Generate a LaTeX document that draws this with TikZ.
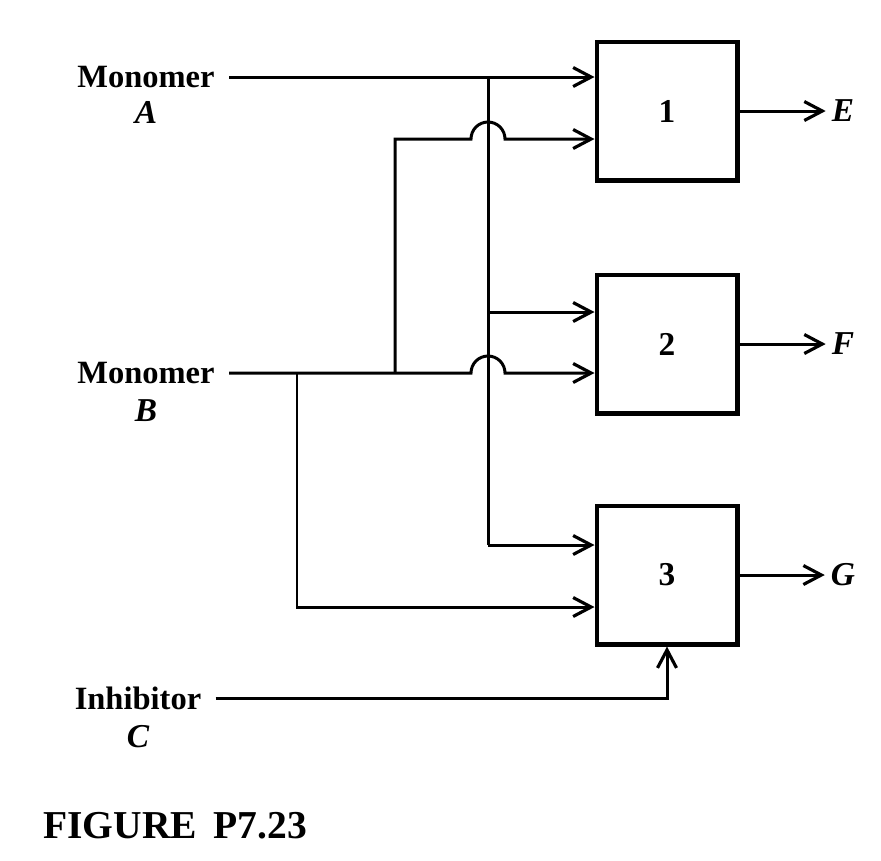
\documentclass[tikz,border=0pt]{standalone}
\usepackage{fontspec}
\setmainfont{Liberation Serif}
\usetikzlibrary{arrows.meta,calc}
\tikzset{
  wire/.style={line width=1.7pt},
  arr/.style={wire, -{Straight Barb[length=0.36cm, width=0.38cm, line width=1.8pt]}},
  unit/.style={draw, line width=2.3pt, minimum width=2.82cm, minimum height=2.78cm,
    font=\fontsize{19}{22}\selectfont\bfseries},
  feed/.style={inner xsep=8pt, font=\fontsize{18.5}{22}\selectfont\bfseries},
  sym/.style={font=\fontsize{19}{22}\selectfont\bfseries\itshape}
}
\begin{document}
\begin{tikzpicture}[x=0.02cm, y=-0.02cm]
        \def \hop {0.34cm}
        \useasboundingbox (0,0) rectangle (881,860);

        \node[unit] (b1) at (667,111) {1};
        \node[unit] (b2) at (667,344) {2};
        \node[unit] (b3) at (667,575) {3};

        \node[feed] (mA) at (146,77) {Monomer};
        \node[sym] (lA) at (146,112) {A};
        \node[feed] (mB) at (146,373) {Monomer};
        \node[sym] (lB) at (146,411) {B};
        \node[feed] (inh) at (138,698) {Inhibitor};
        \node[sym] (lC) at (138,737) {C};

        \node[sym] (E) at (843,111) {E};
        \node[sym] (F) at (843,344) {F};
        \node[sym] (G) at (843,575) {G};

        \node[anchor=base west, inner sep=0pt, font=\fontsize{22.5}{26}\selectfont\bfseries] (cap) at (43,838) {FIGURE\, P7.23};

        \coordinate (tA) at (488,77);
        \coordinate (t2) at (488,312);
        \coordinate (t3) at (488,545);
        \coordinate (kU) at (395,139);
        \coordinate (kB) at (395,373);
        \coordinate (kD) at (297,373);
        \coordinate (kL) at (297,607);

        \draw[arr] (mA.east) -- (mA.east -| b1.west);
        \draw[wire] (tA) -- (t3);
        \draw[arr] (t2) -- (t2 -| b2.west);
        \draw[arr] (t3) -- (t3 -| b3.west);

        \draw[arr] (mB.east) -- ($(mB.east -| tA)+(-17,0)$)
          arc[start angle=180, end angle=0, radius=\hop] -- (mB.east -| b2.west);
        \draw[arr] (kB) -- (kU) -- ($(kU -| tA)+(-17,0)$)
          arc[start angle=180, end angle=0, radius=\hop] -- (kU -| b1.west);
        \draw[arr] (kD) -- (kL) -- (kL -| b3.west);
        \draw[arr] (inh.east) -- (inh.east -| b3.south) -- (b3.south);

        \draw[arr] (b1) -- (E);
        \draw[arr] (b2) -- (F);
        \draw[arr] (b3) -- (G);
      \end{tikzpicture}
\end{document}
